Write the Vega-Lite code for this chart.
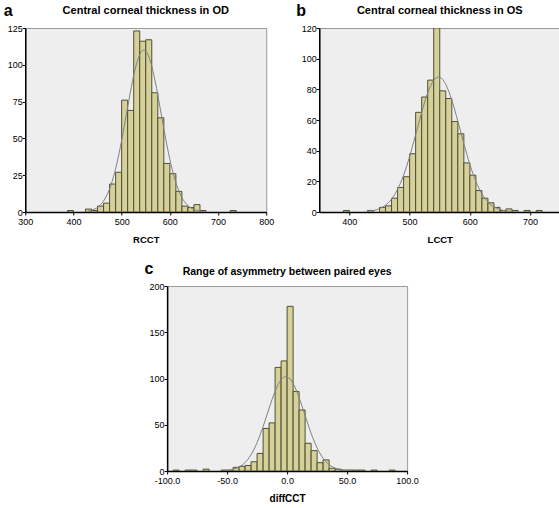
{
  "$schema": "https://vega.github.io/schema/vega-lite/v6.json",
  "padding": {"left": 2, "top": 1, "right": 2, "bottom": 2},
  "background": "white",
  "config": {
    "font": "Liberation Sans",
    "view": {"fill": "#eeeeee", "stroke": "#9a9a9a", "strokeWidth": 1},
    "axis": {"domainColor": "#000000", "domainWidth": 1.5, "tickColor": "#000000", "tickSize": 3, "tickWidth": 1,
      "labelFont": "Liberation Sans", "labelFontSize": 9, "labelColor": "#000000", "labelFlush": false, "labelOverlap": false,
      "grid": false, "titleFont": "Liberation Sans", "titleColor": "#000000", "titleFontWeight": "bold"},
    "title": {"font": "Liberation Sans", "fontWeight": "bold", "fontSize": 11, "color": "#000000", "frame": "group", "baseline": "alphabetic", "anchor": "middle"}
  },
  "datasets": {
    "barsA": [
      {"lo": 387.5, "hi": 400, "n": 1}, {"lo": 425, "hi": 437.5, "n": 2}, {"lo": 437.5, "hi": 450, "n": 1},
      {"lo": 450, "hi": 462.5, "n": 4}, {"lo": 462.5, "hi": 475, "n": 6}, {"lo": 475, "hi": 487.5, "n": 19},
      {"lo": 487.5, "hi": 500, "n": 27}, {"lo": 500, "hi": 512.5, "n": 76}, {"lo": 512.5, "hi": 525, "n": 69},
      {"lo": 525, "hi": 537.5, "n": 123}, {"lo": 537.5, "hi": 550, "n": 116}, {"lo": 550, "hi": 562.5, "n": 117},
      {"lo": 562.5, "hi": 575, "n": 81}, {"lo": 575, "hi": 587.5, "n": 64}, {"lo": 587.5, "hi": 600, "n": 33},
      {"lo": 600, "hi": 612.5, "n": 26}, {"lo": 612.5, "hi": 625, "n": 14}, {"lo": 625, "hi": 637.5, "n": 4},
      {"lo": 637.5, "hi": 650, "n": 3}, {"lo": 650, "hi": 662.5, "n": 5}, {"lo": 662.5, "hi": 675, "n": 1},
      {"lo": 725, "hi": 737.5, "n": 1}
    ],
    "curveA": [
      {"x": 430, "d": 0.61}, {"x": 440, "d": 1.44}, {"x": 450, "d": 3.14}, {"x": 460, "d": 6.35}, {"x": 470, "d": 11.85},
      {"x": 480, "d": 20.5}, {"x": 490, "d": 32.8}, {"x": 500, "d": 48.6}, {"x": 510, "d": 66.7}, {"x": 520, "d": 84.7},
      {"x": 530, "d": 99.6}, {"x": 540, "d": 108.5}, {"x": 546, "d": 110}, {"x": 550, "d": 109.3}, {"x": 560, "d": 102.0},
      {"x": 570, "d": 88.1}, {"x": 580, "d": 70.4}, {"x": 590, "d": 52.1}, {"x": 600, "d": 35.7}, {"x": 610, "d": 22.7},
      {"x": 620, "d": 13.3}, {"x": 630, "d": 7.2}, {"x": 640, "d": 3.64}, {"x": 650, "d": 1.7}, {"x": 660, "d": 0.73},
      {"x": 670, "d": 0.29}
    ],
    "barsB": [
      {"lo": 390, "hi": 400, "n": 1}, {"lo": 430, "hi": 440, "n": 1}, {"lo": 450, "hi": 460, "n": 3},
      {"lo": 460, "hi": 470, "n": 4}, {"lo": 470, "hi": 480, "n": 9}, {"lo": 480, "hi": 490, "n": 16},
      {"lo": 490, "hi": 500, "n": 23}, {"lo": 500, "hi": 510, "n": 38}, {"lo": 510, "hi": 520, "n": 65},
      {"lo": 520, "hi": 530, "n": 75}, {"lo": 530, "hi": 540, "n": 86}, {"lo": 540, "hi": 550, "n": 120},
      {"lo": 550, "hi": 560, "n": 79}, {"lo": 560, "hi": 570, "n": 74}, {"lo": 570, "hi": 580, "n": 59},
      {"lo": 580, "hi": 590, "n": 51}, {"lo": 590, "hi": 600, "n": 32}, {"lo": 600, "hi": 610, "n": 24},
      {"lo": 610, "hi": 620, "n": 14}, {"lo": 620, "hi": 630, "n": 9}, {"lo": 630, "hi": 640, "n": 6},
      {"lo": 640, "hi": 650, "n": 3}, {"lo": 650, "hi": 660, "n": 1}, {"lo": 660, "hi": 670, "n": 2},
      {"lo": 670, "hi": 680, "n": 1}, {"lo": 690, "hi": 700, "n": 1}, {"lo": 710, "hi": 720, "n": 1}
    ],
    "curveB": [
      {"x": 430, "d": 0.41}, {"x": 440, "d": 0.98}, {"x": 450, "d": 2.16}, {"x": 460, "d": 4.44}, {"x": 470, "d": 8.42},
      {"x": 480, "d": 14.8}, {"x": 490, "d": 24.0}, {"x": 500, "d": 36.2}, {"x": 510, "d": 50.4}, {"x": 520, "d": 65.0},
      {"x": 530, "d": 77.7}, {"x": 540, "d": 85.9}, {"x": 548, "d": 88}, {"x": 550, "d": 87.9}, {"x": 560, "d": 83.2},
      {"x": 570, "d": 73.0}, {"x": 580, "d": 59.3}, {"x": 590, "d": 44.6}, {"x": 600, "d": 31.0}, {"x": 610, "d": 20.0},
      {"x": 620, "d": 11.9}, {"x": 630, "d": 6.57}, {"x": 640, "d": 3.36}, {"x": 650, "d": 1.59}, {"x": 660, "d": 0.7},
      {"x": 670, "d": 0.28}
    ],
    "barsC": [
      {"lo": -95, "hi": -90, "n": 1}, {"lo": -85, "hi": -80, "n": 1}, {"lo": -80, "hi": -75, "n": 1},
      {"lo": -70, "hi": -65, "n": 2}, {"lo": -55, "hi": -50, "n": 1}, {"lo": -50, "hi": -45, "n": 1},
      {"lo": -45, "hi": -40, "n": 4}, {"lo": -40, "hi": -35, "n": 5}, {"lo": -35, "hi": -30, "n": 6},
      {"lo": -30, "hi": -25, "n": 10}, {"lo": -25, "hi": -20, "n": 19}, {"lo": -20, "hi": -15, "n": 46},
      {"lo": -15, "hi": -10, "n": 52}, {"lo": -10, "hi": -5, "n": 112}, {"lo": -5, "hi": 0, "n": 119},
      {"lo": 0, "hi": 5, "n": 178}, {"lo": 5, "hi": 10, "n": 86}, {"lo": 10, "hi": 15, "n": 66},
      {"lo": 15, "hi": 20, "n": 30}, {"lo": 20, "hi": 25, "n": 22}, {"lo": 25, "hi": 30, "n": 9},
      {"lo": 30, "hi": 35, "n": 12}, {"lo": 35, "hi": 40, "n": 3}, {"lo": 40, "hi": 45, "n": 2},
      {"lo": 45, "hi": 50, "n": 1}, {"lo": 50, "hi": 55, "n": 1}, {"lo": 55, "hi": 60, "n": 1},
      {"lo": 60, "hi": 65, "n": 1}, {"lo": 70, "hi": 75, "n": 1}, {"lo": 85, "hi": 90, "n": 1}
    ],
    "curveC": [
      {"x": -50, "d": 0.69}, {"x": -45, "d": 1.81}, {"x": -40, "d": 4.31}, {"x": -35, "d": 9.2}, {"x": -30, "d": 17.7},
      {"x": -25, "d": 30.8}, {"x": -20, "d": 48.1}, {"x": -15, "d": 67.9}, {"x": -10, "d": 86.2}, {"x": -5, "d": 98.7},
      {"x": -1, "d": 102}, {"x": 0, "d": 101.8}, {"x": 5, "d": 94.6}, {"x": 10, "d": 79.3}, {"x": 15, "d": 59.9},
      {"x": 20, "d": 40.7}, {"x": 25, "d": 25.0}, {"x": 30, "d": 13.8}, {"x": 35, "d": 6.9}, {"x": 40, "d": 3.1},
      {"x": 45, "d": 1.25}, {"x": 50, "d": 0.45}
    ]
  },
  "vconcat": [
    {
      "hconcat": [
        {
          "width": 241, "height": 184,
          "title": {"text": "Central corneal thickness in OD", "offset": -13.8},
          "layer": [
            {
              "data": {"name": "barsA"},
              "mark": {"type": "bar", "fill": "#d5d199", "stroke": "#4f4f36", "strokeWidth": 1, "clip": true},
              "encoding": {
                "x": {"field": "lo", "type": "quantitative", "title": "RCCT", "scale": {"domain": [300, 800], "nice": false, "zero": false},
                  "axis": {"values": [300, 400, 500, 600, 700, 800], "tickCount": 20, "titleFontSize": 9.5, "titlePadding": 8, "labelPadding": 2}},
                "x2": {"field": "hi"},
                "y": {"field": "n", "type": "quantitative", "title": "a", "scale": {"domain": [0, 125], "nice": false},
                  "axis": {"values": [0, 25, 50, 75, 100, 125], "tickCount": 20, "titleAngle": 0, "titleAlign": "left", "titleBaseline": "alphabetic",
                    "titleX": -22, "titleY": -13, "titleFontSize": 16, "labelPadding": 0}},
                "y2": {"datum": 0}
              }
            },
            {
              "data": {"name": "curveA"},
              "mark": {"type": "line", "color": "#808080", "strokeWidth": 1, "interpolate": "monotone"},
              "encoding": {
                "x": {"field": "x", "type": "quantitative", "title": "RCCT"},
                "y": {"field": "d", "type": "quantitative", "title": "a"}
              }
            }
          ]
        },
        {
          "width": 241, "height": 184,
          "title": {"text": "Central corneal thickness in OS", "offset": -13.3},
          "layer": [
            {
              "data": {"name": "barsB"},
              "mark": {"type": "bar", "fill": "#d5d199", "stroke": "#4f4f36", "strokeWidth": 1, "clip": true},
              "encoding": {
                "x": {"field": "lo", "type": "quantitative", "title": "LCCT", "scale": {"domain": [350, 750], "nice": false, "zero": false},
                  "axis": {"values": [400, 500, 600, 700], "tickCount": 20, "titleFontSize": 9.5, "titlePadding": 8, "labelPadding": 2}},
                "x2": {"field": "hi"},
                "y": {"field": "n", "type": "quantitative", "title": "b", "scale": {"domain": [0, 120], "nice": false},
                  "axis": {"values": [0, 20, 40, 60, 80, 100, 120], "tickCount": 20, "titleAngle": 0, "titleAlign": "left", "titleBaseline": "alphabetic",
                    "titleX": -23.4, "titleY": -12.5, "titleFontSize": 16, "labelPadding": 0}},
                "y2": {"datum": 0}
              }
            },
            {
              "data": {"name": "curveB"},
              "mark": {"type": "line", "color": "#808080", "strokeWidth": 1, "interpolate": "monotone"},
              "encoding": {
                "x": {"field": "x", "type": "quantitative", "title": "LCCT"},
                "y": {"field": "d", "type": "quantitative", "title": "b"}
              }
            }
          ]
        }
      ],
      "spacing": 20
    },
    {
      "width": 240, "height": 185,
      "title": {"text": "Range of asymmetry between paired eyes", "offset": -17.1, "fontSize": 10.5},
      "layer": [
        {
          "data": {"name": "barsC"},
          "mark": {"type": "bar", "fill": "#d5d199", "stroke": "#4f4f36", "strokeWidth": 1, "clip": true},
          "encoding": {
            "x": {"field": "lo", "type": "quantitative", "title": "diffCCT", "scale": {"domain": [-100, 100], "nice": false, "zero": false},
              "axis": {"values": [-100, -50, 0, 50, 100], "tickCount": 20, "labelExpr": "(datum.value < 0 ? '-' : '') + format(abs(datum.value), '.1f')",
                "titleFontSize": 10, "titlePadding": 8, "labelPadding": 2}},
            "x2": {"field": "hi"},
            "y": {"field": "n", "type": "quantitative", "title": "c", "scale": {"domain": [0, 200], "nice": false},
              "axis": {"values": [0, 50, 100, 150, 200], "tickCount": 20, "titleAngle": 0, "titleAlign": "left", "titleBaseline": "alphabetic",
                "titleX": -23, "titleY": -12.7, "titleFontSize": 16, "labelPadding": 0}},
            "y2": {"datum": 0}
          }
        },
        {
          "data": {"name": "curveC"},
          "mark": {"type": "line", "color": "#808080", "strokeWidth": 1, "interpolate": "monotone"},
          "encoding": {
            "x": {"field": "x", "type": "quantitative", "title": "diffCCT"},
            "y": {"field": "d", "type": "quantitative", "title": "c"}
          }
        }
      ]
    }
  ],
  "spacing": 15,
  "center": true
}
